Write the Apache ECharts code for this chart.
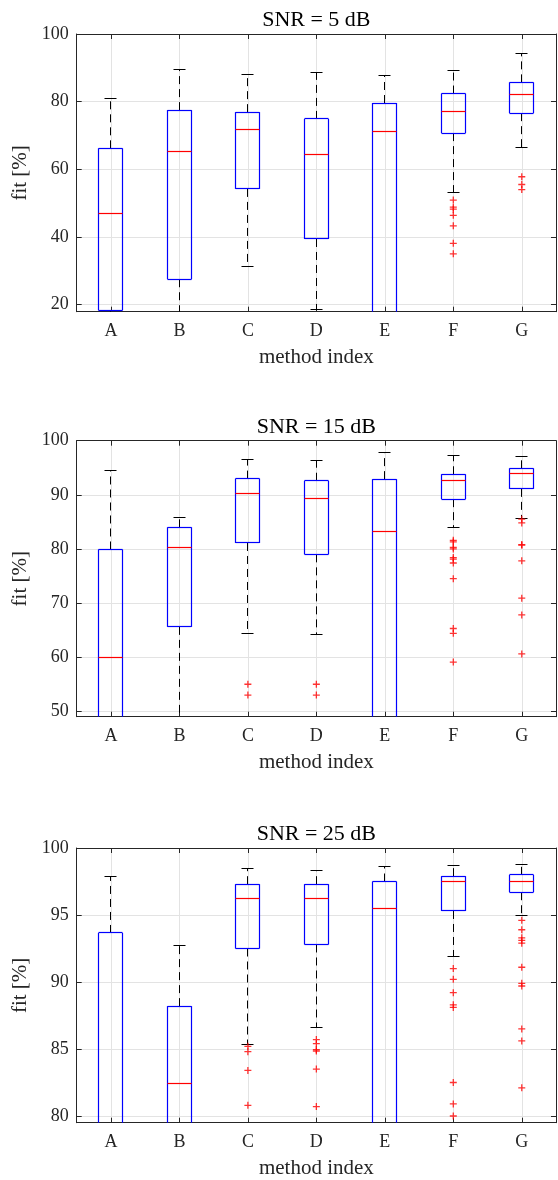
<!DOCTYPE html>
<html>
<head>
<meta charset="utf-8">
<script src="https://cdn.jsdelivr.net/npm/echarts@6/dist/echarts.min.js"></script>
<style>
html,body{margin:0;padding:0;background:#fff;}
#chart{width:558px;height:1180px;}
</style>
</head>
<body>
<div id="chart"></div>
<script>
// ---------- data ----------
const categories = ['A', 'B', 'C', 'D', 'E', 'F', 'G'];
const panelTitles = ['SNR = 5 dB', 'SNR = 15 dB', 'SNR = 25 dB'];
const yMin = [17.9, 49, 79.5];
const yMax = [100, 100, 100];

// SNR = 5 dB
const snr5Lower  = [5,    2,    31.2, 18.5, 0,    53.2, 66.5];
const snr5Q1     = [18.3, 27.5, 54.2, 39.4, 10,   70.7, 76.6];
const snr5Median = [47.0, 65.3, 71.7, 64.4, 71.2, 77.0, 82.2];
const snr5Q3     = [66.2, 77.5, 76.9, 74.9, 79.6, 82.4, 85.7];
const snr5Upper  = [80.9, 89.4, 87.9, 88.7, 87.7, 89.1, 94.1];
const snr5Outliers = [
  ['F', 50.9], ['F', 48.8], ['F', 48.2], ['F', 46.4], ['F', 43.3], ['F', 38.1], ['F', 35.0],
  ['G', 57.8], ['G', 55.5], ['G', 54.0]
];

// SNR = 15 dB
const snr15Lower  = [20,   30,   64.4, 64.1, 20,   83.9, 85.6];
const snr15Q1     = [40,   65.6, 81.1, 79.0, 35,   89.2, 91.1];
const snr15Median = [59.9, 80.2, 90.3, 89.3, 83.3, 92.6, 93.9];
const snr15Q3     = [79.9, 84.0, 93.0, 92.6, 92.9, 93.8, 94.9];
const snr15Upper  = [94.5, 85.9, 96.5, 96.4, 97.8, 97.2, 97.0];
const snr15Outliers = [
  ['C', 55.0], ['C', 53.0],
  ['D', 55.0], ['D', 53.0],
  ['F', 81.6], ['F', 81.3], ['F', 80.3], ['F', 80.0], ['F', 78.4], ['F', 78.1], ['F', 77.4],
  ['F', 74.5], ['F', 65.3], ['F', 64.4], ['F', 59.1],
  ['G', 85.5], ['G', 84.8], ['G', 80.8], ['G', 80.7], ['G', 77.8], ['G', 70.9], ['G', 67.8], ['G', 60.6]
];

// SNR = 25 dB
const snr25Lower  = [60,    65,   85.3, 86.6, 70,   91.9, 95.0];
const snr25Q1     = [70,    72,   92.5, 92.8, 75,   95.3, 96.7];
const snr25Median = [77,    82.4, 96.2, 96.2, 95.5, 97.5, 97.5];
const snr25Q3     = [93.66, 88.2, 97.3, 97.3, 97.5, 97.9, 98.0];
const snr25Upper  = [97.9,  92.7, 98.5, 98.3, 98.6, 98.7, 98.8];
const snr25Outliers = [
  ['C', 85.2], ['C', 84.8], ['C', 83.4], ['C', 80.8],
  ['D', 85.7], ['D', 85.4], ['D', 84.95], ['D', 84.85], ['D', 83.5], ['D', 80.7],
  ['F', 91.0], ['F', 90.2], ['F', 89.2], ['F', 88.3], ['F', 88.1], ['F', 82.5], ['F', 80.9], ['F', 80.0],
  ['G', 94.6], ['G', 93.9], ['G', 93.3], ['G', 93.1], ['G', 92.9], ['G', 91.1], ['G', 89.9], ['G', 89.7],
  ['G', 86.5], ['G', 85.6], ['G', 82.1]
];

const panels = [
  [snr5Lower, snr5Q1, snr5Median, snr5Q3, snr5Upper, snr5Outliers],
  [snr15Lower, snr15Q1, snr15Median, snr15Q3, snr15Upper, snr15Outliers],
  [snr25Lower, snr25Q1, snr25Median, snr25Q3, snr25Upper, snr25Outliers]
];

// ---------- layout / style ----------
const FONT = '"Liberation Serif", "Times New Roman", serif';
const AX = '#262626';
const GRIDC = '#e3e3e3';
const BLUE = '#0000ff';
const RED = '#ff0000';
const grids = [
  {left: 76.7, top: 34,    width: 479.3, height: 277.7},
  {left: 76.7, top: 440.7, width: 479.3, height: 276},
  {left: 76.7, top: 848,   width: 479.3, height: 274.7}
];
const titleY = [20.5, 427, 834.5];
const splitNums = [4, 5, 4];

const px = v => Math.round(v - 0.5) + 0.5;

// part: 'whisker' | 'box' | 'median'
function makeRender(part) {
  return function (params, api) {
    const k = api.value(0);
    const lo = api.value(1), q1 = api.value(2), med = api.value(3), q3 = api.value(4), hi = api.value(5);
    const cs = params.coordSys;
    const top = cs.y, bot = cs.y + cs.height;
    const Y = v => api.coord([k, v])[1];
    const cx = px(api.coord([k, med])[0]);
    const band = api.size([1, 0])[0];
    const hw = Math.round(band * 0.175), cw = Math.round(band * 0.0875);
    const inR = y => y >= top - 0.01 && y <= bot + 0.01;
    const cl = y => Math.min(bot, Math.max(top, y));
    const children = [];
    const line = (x1, y1, x2, y2, color, dashed, w) => children.push({
      type: 'line', shape: {x1, y1, x2, y2},
      style: dashed ? {stroke: color, lineWidth: w, lineDash: [8, 5], fill: null}
                    : {stroke: color, lineWidth: w, fill: null}
    });
    const yq3 = Y(q3), yhi = Y(hi), yq1 = Y(q1), ylo = Y(lo), ymed = Y(med);
    if (part === 'whisker') {
      if (yq3 > top) line(cx, cl(yq3), cx, cl(yhi), '#000000', true, 1);
      if (inR(yhi)) line(cx - cw, px(yhi), cx + cw, px(yhi), '#000000', false, 1);
      if (yq1 < bot) line(cx, cl(yq1), cx, cl(ylo), '#000000', true, 1);
      if (inR(ylo)) line(cx - cw, px(ylo), cx + cw, px(ylo), '#000000', false, 1);
    } else if (part === 'box') {
      const bt = cl(yq3), bb = cl(yq1);
      line(cx - hw, bt, cx - hw, bb, BLUE, false, 1.2);
      line(cx + hw, bt, cx + hw, bb, BLUE, false, 1.2);
      if (inR(yq3)) line(cx - hw, px(yq3), cx + hw, px(yq3), BLUE, false, 1.2);
      if (inR(yq1)) line(cx - hw, px(yq1), cx + hw, px(yq1), BLUE, false, 1.2);
    } else {
      if (inR(ymed)) line(cx - hw, px(ymed), cx + hw, px(ymed), RED, false, 1.2);
    }
    return {type: 'group', children};
  };
}

const plusPath = 'path://M2.85,0H4.15V2.85H7V4.15H4.15V7H2.85V4.15H0V2.85H2.85Z';

const xAxes = [], yAxes = [], series = [], graphics = [];
panels.forEach((p, i) => {
  const [lower, q1, median, q3, upper, outliers] = p;
  xAxes.push({
    type: 'category', gridIndex: i, data: categories, boundaryGap: true, position: 'bottom',
    axisLine: {show: true, lineStyle: {color: AX, width: 1}},
    axisTick: {show: true, inside: true, alignWithLabel: true, length: 5, interval: 0, lineStyle: {color: AX}},
    axisLabel: {show: true, interval: 0, margin: 11, color: AX, fontFamily: FONT, fontSize: 18},
    splitLine: {show: true, alignWithLabel: true, interval: 0, lineStyle: {color: GRIDC, width: 1}},
    name: 'method index', nameLocation: 'middle', nameGap: 35,
    nameTextStyle: {color: AX, fontFamily: FONT, fontSize: 21}
  });
  xAxes.push({
    type: 'category', gridIndex: i, data: categories, boundaryGap: true, position: 'top',
    axisLine: {show: true, lineStyle: {color: AX, width: 1}},
    axisTick: {show: true, inside: true, alignWithLabel: true, length: 5, interval: 0, lineStyle: {color: AX}},
    axisLabel: {show: false}, splitLine: {show: false}
  });
  yAxes.push({
    type: 'value', gridIndex: i, min: yMin[i], max: yMax[i], splitNumber: splitNums[i], position: 'left',
    axisLine: {show: true, lineStyle: {color: AX, width: 1}},
    axisTick: {show: true, inside: true, length: 5, lineStyle: {color: AX}},
    axisLabel: {show: true, margin: 8, color: AX, fontFamily: FONT, fontSize: 18, showMinLabel: false, showMaxLabel: true},
    splitLine: {show: true, lineStyle: {color: GRIDC, width: 1}},
    name: 'fit [%]', nameLocation: 'middle', nameGap: 44,
    nameTextStyle: {color: AX, fontFamily: FONT, fontSize: 21}
  });
  yAxes.push({
    type: 'value', gridIndex: i, min: yMin[i], max: yMax[i], splitNumber: splitNums[i], position: 'right',
    axisLine: {show: true, lineStyle: {color: AX, width: 1}},
    axisTick: {show: true, inside: true, length: 5, lineStyle: {color: AX}},
    axisLabel: {show: false}, splitLine: {show: false}
  });
  const boxData = categories.map((c, k) => [k, lower[k], q1[k], median[k], q3[k], upper[k]]);
  ['whisker', 'box', 'median'].forEach((part, j) => {
    series.push({
      type: 'custom', xAxisIndex: i * 2, yAxisIndex: i * 2,
      renderItem: makeRender(part),
      encode: {x: 0, y: [1, 2, 3, 4, 5]},
      data: boxData,
      z: 3 + j, silent: true
    });
  });
  series.push({
    type: 'scatter', xAxisIndex: i * 2, yAxisIndex: i * 2,
    symbol: plusPath, symbolSize: 7,
    itemStyle: {color: RED},
    data: outliers, z: 7, silent: true
  });
  graphics.push({
    type: 'text', x: grids[i].left + grids[i].width / 2, y: titleY[i],
    style: {text: panelTitles[i], fill: '#000', font: '22px ' + FONT, textAlign: 'center', textVerticalAlign: 'middle'}
  });
});

const chart = echarts.init(document.getElementById('chart'), null, {renderer: 'canvas'});
chart.setOption({
  animation: false,
  backgroundColor: '#fff',
  grid: grids.map(g => Object.assign({containLabel: false}, g)),
  xAxis: xAxes,
  yAxis: yAxes,
  series: series,
  graphic: graphics
});
</script>
</body>
</html>
